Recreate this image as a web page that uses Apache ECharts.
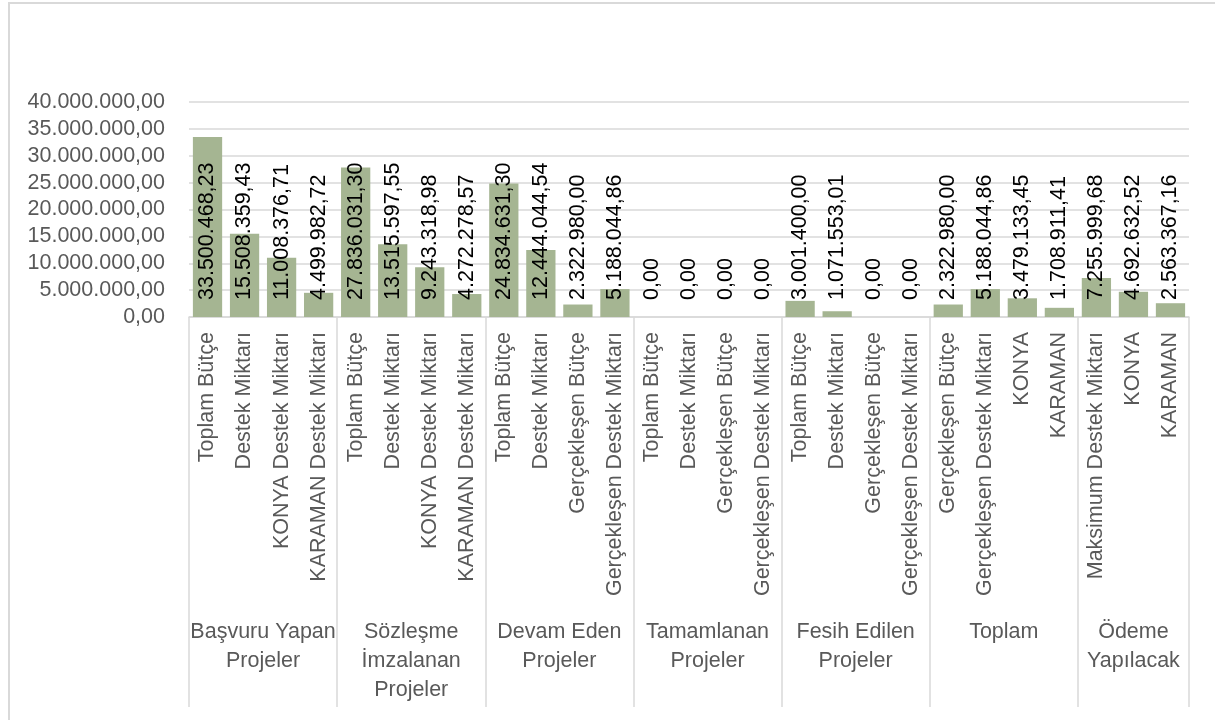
<!DOCTYPE html>
<html>
<head>
<meta charset="utf-8">
<script src="https://cdn.jsdelivr.net/npm/echarts@6/dist/echarts.min.js"></script>
<style>
  html, body { margin: 0; padding: 0; background: #fff; overflow: hidden; }
  #frame { position: absolute; left: 8px; top: 2px; width: 1400px; height: 900px; border: 2px solid #d9d9d9; box-sizing: border-box; pointer-events: none; }
  #chart { position: absolute; left: 0; top: 0; width: 1215px; height: 720px; }
</style>
</head>
<body>
<div id="frame"></div>
<div id="chart"></div>
<script>
// ---- data ----
const groups = ["Başvuru Yapan\nProjeler", "Sözleşme\nİmzalanan\nProjeler", "Devam Eden\nProjeler", "Tamamlanan\nProjeler", "Fesih Edilen\nProjeler", "Toplam", "Ödeme\nYapılacak"];
const groupSizes = [4, 4, 4, 4, 4, 4, 3];
const categories = [
  "Toplam Bütçe", "Destek Miktarı", "KONYA Destek Miktarı", "KARAMAN Destek Miktarı",
  "Toplam Bütçe", "Destek Miktarı", "KONYA Destek Miktarı", "KARAMAN Destek Miktarı",
  "Toplam Bütçe", "Destek Miktarı", "Gerçekleşen Bütçe", "Gerçekleşen Destek Miktarı",
  "Toplam Bütçe", "Destek Miktarı", "Gerçekleşen Bütçe", "Gerçekleşen Destek Miktarı",
  "Toplam Bütçe", "Destek Miktarı", "Gerçekleşen Bütçe", "Gerçekleşen Destek Miktarı",
  "Gerçekleşen Bütçe", "Gerçekleşen Destek Miktarı", "KONYA", "KARAMAN",
  "Maksimum Destek Miktarı", "KONYA", "KARAMAN"
];
const values = [
  33500468.23, 15508359.43, 11008376.71, 4499982.72,
  27836031.30, 13515597.55, 9243318.98, 4272278.57,
  24834631.30, 12444044.54, 2322980.00, 5188044.86,
  0, 0, 0, 0,
  3001400.00, 1071553.01, 0, 0,
  2322980.00, 5188044.86, 3479133.45, 1708911.41,
  7255999.68, 4692632.52, 2563367.16
];
const yMin = 0, yMax = 40000000, yStep = 5000000;

// ---- helpers ----
function fmt(v) {
  const parts = Number(v).toFixed(2).split('.');
  return parts[0].replace(/\B(?=(\d{3})+(?!\d))/g, '.') + ',' + parts[1];
}
const boundaries = [0];
const centers = [];
groupSizes.forEach(function (s) {
  const start = boundaries[boundaries.length - 1];
  centers.push(start + s / 2);
  boundaries.push(start + s);
});
const total = boundaries[boundaries.length - 1];

const FONT = 'Liberation Sans';
const FS = 21.5;
const chart = echarts.init(document.getElementById('chart'));
chart.setOption({
  animation: false,
  backgroundColor: 'transparent',
  grid: { left: 189, right: 26, top: 102, height: 215, containLabel: false },
  xAxis: [
    {
      type: 'category',
      data: categories,
      position: 'bottom',
      axisLine: { show: true, lineStyle: { color: '#d9d9d9', width: 1.5 } },
      axisTick: { show: false },
      axisLabel: { interval: 0, rotate: 90, margin: 15, color: '#595959', fontSize: FS, fontFamily: FONT }
    },
    {
      type: 'value',
      min: 0,
      max: total,
      position: 'bottom',
      axisLine: { show: false },
      splitLine: { show: false },
      axisTick: { show: true, customValues: boundaries, length: 390, lineStyle: { color: '#d9d9d9', width: 1.5 } },
      axisLabel: {
        show: true,
        customValues: centers,
        showMinLabel: true,
        showMaxLabel: true,
        hideOverlap: false,
        formatter: function (v) {
          const i = centers.indexOf(v);
          return i >= 0 ? groups[i] : '';
        },
        margin: 301,
        color: '#595959', fontSize: FS, fontFamily: FONT, lineHeight: 29,
        align: 'center', verticalAlign: 'top'
      }
    }
  ],
  yAxis: {
    type: 'value',
    min: yMin, max: yMax, interval: yStep,
    axisLine: { show: false },
    axisTick: { show: false },
    splitLine: { lineStyle: { color: '#d9d9d9', width: 1.5 } },
    axisLabel: { formatter: fmt, margin: 24, color: '#595959', fontSize: FS, fontFamily: FONT }
  },
  series: [{
    type: 'bar',
    data: values,
    xAxisIndex: 0,
    barCategoryGap: '21%',
    itemStyle: { color: '#A5B592' },
    label: {
      show: true,
      position: 'insideBottom',
      distance: 17,
      rotate: 90,
      align: 'left',
      verticalAlign: 'middle',
      formatter: function (p) { return fmt(p.value); },
      color: '#000', fontSize: FS, fontFamily: FONT
    }
  }]
});
</script>
</body>
</html>
